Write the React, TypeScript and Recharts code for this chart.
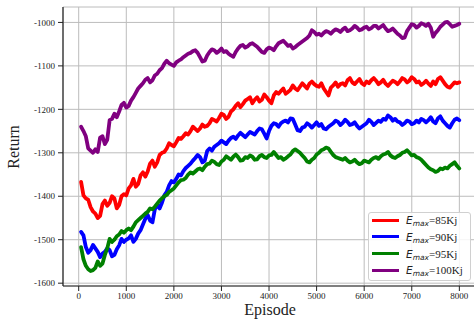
import React from 'react';
import { LineChart, Line, XAxis, YAxis, CartesianGrid } from 'recharts';

const episodes = [
  50, 100, 150, 200, 250, 300, 350, 400, 450, 500,
  550, 600, 650, 700, 750, 800, 850, 900, 950, 1000,
  1050, 1100, 1150, 1200, 1250, 1300, 1350, 1400, 1450, 1500,
  1550, 1600, 1650, 1700, 1750, 1800, 1850, 1900, 1950, 2000,
  2050, 2100, 2150, 2200, 2250, 2300, 2350, 2400, 2450, 2500,
  2550, 2600, 2650, 2700, 2750, 2800, 2850, 2900, 2950, 3000,
  3050, 3100, 3150, 3200, 3250, 3300, 3350, 3400, 3450, 3500,
  3550, 3600, 3650, 3700, 3750, 3800, 3850, 3900, 3950, 4000,
  4050, 4100, 4150, 4200, 4250, 4300, 4350, 4400, 4450, 4500,
  4550, 4600, 4650, 4700, 4750, 4800, 4850, 4900, 4950, 5000,
  5050, 5100, 5150, 5200, 5250, 5300, 5350, 5400, 5450, 5500,
  5550, 5600, 5650, 5700, 5750, 5800, 5850, 5900, 5950, 6000,
  6050, 6100, 6150, 6200, 6250, 6300, 6350, 6400, 6450, 6500,
  6550, 6600, 6650, 6700, 6750, 6800, 6850, 6900, 6950, 7000,
  7050, 7100, 7150, 7200, 7250, 7300, 7350, 7400, 7450, 7500,
  7550, 7600, 7650, 7700, 7750, 7800, 7850, 7900, 7950, 8000,
];

const returns85 = [
  -1367, -1398, -1405, -1408, -1425, -1435, -1440, -1450, -1445, -1418,
  -1410, -1422, -1415, -1400, -1405, -1428, -1420, -1400, -1395, -1398,
  -1382, -1375, -1360, -1378, -1372, -1352, -1345, -1355, -1343, -1325,
  -1318, -1332, -1322, -1305, -1300, -1298, -1290, -1278, -1282, -1285,
  -1276, -1266, -1268, -1262, -1255, -1258, -1250, -1240, -1245, -1250,
  -1244, -1235, -1240, -1238, -1232, -1222, -1225, -1228, -1220, -1210,
  -1213, -1222, -1217, -1205, -1200, -1192, -1186, -1195, -1188, -1180,
  -1176, -1172, -1186, -1178, -1172, -1182, -1178, -1166, -1172, -1180,
  -1186, -1168, -1160, -1164, -1158, -1152, -1164, -1160, -1155, -1145,
  -1152, -1156, -1148, -1140, -1146, -1152, -1141, -1136, -1142, -1146,
  -1148, -1140, -1152, -1160, -1168, -1150, -1145, -1138, -1148, -1142,
  -1140, -1145, -1133, -1128, -1138, -1142, -1136, -1130, -1140, -1144,
  -1136, -1140, -1133, -1128, -1134, -1142, -1138, -1132, -1141, -1146,
  -1140, -1134, -1137, -1142, -1136, -1128, -1131, -1138, -1134, -1126,
  -1130, -1138, -1136, -1144, -1140, -1134, -1141, -1146, -1136, -1142,
  -1130, -1126, -1134, -1142, -1148, -1150, -1144, -1138, -1140, -1138,
];

const returns90 = [
  -1482, -1490, -1517, -1530, -1524, -1512, -1520, -1528, -1540, -1532,
  -1528, -1520, -1524, -1538, -1535, -1522, -1513, -1498, -1505, -1500,
  -1497, -1490, -1505, -1498, -1486, -1478, -1465, -1452, -1443, -1456,
  -1460, -1430, -1420, -1428, -1415, -1398, -1390, -1375, -1365, -1368,
  -1360, -1350, -1352, -1342, -1335, -1330, -1325, -1318, -1312, -1305,
  -1310, -1322, -1318, -1296, -1290, -1295, -1286, -1282, -1278, -1272,
  -1276, -1280, -1272, -1266, -1263, -1268, -1260, -1254, -1259, -1264,
  -1258, -1252, -1255, -1258, -1250, -1244, -1246, -1256, -1267, -1250,
  -1238, -1232, -1234, -1240, -1232, -1228, -1226, -1230, -1221, -1222,
  -1235, -1248, -1250, -1242, -1240, -1232, -1236, -1242, -1236, -1230,
  -1238, -1234, -1244, -1246, -1240, -1236, -1232, -1226, -1229, -1236,
  -1231, -1224, -1229, -1236, -1234, -1230, -1238, -1244, -1240, -1236,
  -1232, -1224, -1229, -1236, -1231, -1226, -1229, -1222, -1224, -1214,
  -1218, -1226, -1222, -1228, -1230, -1236, -1232, -1226, -1228, -1234,
  -1232, -1226, -1230, -1222, -1225, -1230, -1225, -1218, -1228, -1232,
  -1221, -1216, -1226, -1232, -1238, -1242, -1232, -1224, -1221, -1225,
];

const returns95 = [
  -1517, -1545, -1560, -1568, -1572, -1570, -1565, -1550, -1560, -1555,
  -1535, -1520, -1498, -1505, -1500, -1492, -1488, -1480, -1484, -1478,
  -1474, -1478, -1470, -1460, -1455, -1450, -1445, -1440, -1436, -1428,
  -1430, -1424, -1417, -1410, -1405, -1400, -1397, -1390, -1386, -1382,
  -1375, -1368, -1363, -1362, -1358, -1350, -1345, -1348, -1343, -1338,
  -1336, -1340, -1332, -1326, -1325, -1318, -1321, -1326, -1328, -1320,
  -1316, -1308, -1312, -1316, -1309, -1304, -1310, -1318, -1317, -1310,
  -1312, -1306, -1309, -1316, -1315, -1308, -1305, -1310, -1312, -1306,
  -1305, -1298, -1305, -1312, -1310, -1316, -1313, -1308, -1304, -1296,
  -1292, -1296, -1300, -1306, -1312, -1320, -1322, -1316, -1312, -1304,
  -1300, -1294, -1292, -1288, -1290, -1298, -1305, -1310, -1312, -1314,
  -1316, -1312, -1318, -1322, -1320, -1316, -1322, -1326, -1324, -1318,
  -1320, -1322, -1316, -1312, -1310, -1314, -1308, -1304, -1302, -1298,
  -1306, -1310, -1312, -1308, -1305, -1300, -1298, -1294, -1300, -1306,
  -1305, -1310, -1312, -1316, -1322, -1328, -1334, -1338, -1340, -1344,
  -1342, -1336, -1338, -1334, -1336, -1330, -1326, -1322, -1330, -1336,
];

const returns100 = [
  -1240, -1250, -1262, -1290, -1295, -1300, -1292, -1298, -1265, -1262,
  -1280, -1270, -1225, -1222, -1210, -1218, -1205, -1190, -1185, -1196,
  -1192, -1180, -1172, -1162, -1152, -1146, -1140, -1132, -1128, -1138,
  -1133, -1122, -1118, -1110, -1105, -1095, -1088, -1094, -1097, -1100,
  -1092, -1088, -1085, -1080, -1076, -1072, -1070, -1066, -1064, -1070,
  -1080, -1090, -1088, -1076, -1068, -1062, -1064, -1070, -1066, -1060,
  -1068, -1066, -1072, -1076, -1079, -1068, -1060, -1054, -1052, -1058,
  -1055, -1050, -1048, -1052, -1056, -1062, -1068, -1070, -1062, -1058,
  -1060, -1064, -1055, -1048, -1045, -1042, -1048, -1054, -1052, -1060,
  -1057, -1052, -1048, -1044, -1040, -1036, -1030, -1018, -1022, -1028,
  -1026, -1030, -1024, -1020, -1022, -1026, -1020, -1016, -1018, -1022,
  -1016, -1012, -1020, -1018, -1014, -1008, -1012, -1018, -1016, -1012,
  -1010, -1016, -1013, -1008, -1008, -1014, -1010, -1006, -1014, -1020,
  -1018, -1014, -1020, -1026, -1030, -1036, -1035, -1020, -1012, -1004,
  -1006, -1012, -1008, -1002, -1004, -1008, -1003, -1012, -1033, -1024,
  -1018, -1010, -1005, -1000, -999, -1004, -1010, -1008, -1006, -1003,
];

const xTicks = [0, 1000, 2000, 3000, 4000, 5000, 6000, 7000, 8000];
const yTicks = [-1600, -1500, -1400, -1300, -1200, -1100, -1000];

const seriesKeys = ['e85', 'e90', 'e95', 'e100'];
const seriesLabels = ['=85Kj', '=90Kj', '=95Kj', '=100Kj'];
const seriesColors = ['#ff0000', '#0000ff', '#008000', '#800080'];
const seriesValues = [returns85, returns90, returns95, returns100];

const data = episodes.map((ep, i) => {
  const row: Record<string, number> = { episode: ep };
  seriesKeys.forEach((k, j) => {
    row[k] = seriesValues[j][i];
  });
  return row;
});

const SERIF = '"Liberation Serif", "DejaVu Serif", serif';
const tickStyle = { fontFamily: SERIF, fontSize: 9, fill: '#222' };

const LegendBox = () => (
  <div
    style={{
      position: 'absolute',
      left: 368,
      top: 212,
      width: 103,
      height: 69,
      border: '1px solid #d0d0d0',
      borderRadius: 3,
      background: 'rgba(255,255,255,0.85)',
      boxSizing: 'border-box',
    }}
  >
    {seriesKeys.map((k, i) => (
      <div
        key={k}
        style={{
          position: 'absolute',
          left: 0,
          top: 7.3 + i * 16.65 - 8,
          height: 16,
          width: 101,
        }}
      >
        <div
          style={{
            position: 'absolute',
            left: 3,
            top: 6.5,
            width: 27,
            height: 3,
            background: seriesColors[i],
          }}
        />
        <div
          style={{
            position: 'absolute',
            left: 37,
            top: 0,
            whiteSpace: 'nowrap',
            lineHeight: '16px',
            fontFamily: SERIF,
            fontSize: 11,
            color: '#222',
          }}
        >
          <span style={{ fontFamily: '"DejaVu Sans", sans-serif', fontStyle: 'italic', fontSize: 10.5 }}>E</span>
          <span
            style={{
              fontFamily: '"DejaVu Sans", sans-serif',
              fontStyle: 'italic',
              fontSize: 7.5,
              position: 'relative',
              top: 2,
            }}
          >
            max
          </span>
          <span>{seriesLabels[i]}</span>
        </div>
      </div>
    ))}
  </div>
);

export default function App() {
  return (
    <div
      style={{
        position: 'absolute',
        left: 0,
        top: 0,
        width: 474,
        height: 324,
        overflow: 'hidden',
        background: '#fff',
      }}
    >
      <LineChart
        width={478}
        height={324}
        data={data}
        margin={{ top: 7, right: 2, left: 0, bottom: 0 }}
      >
        <CartesianGrid stroke="#bcbcbc" strokeWidth={1} />
        <XAxis
          dataKey="episode"
          type="number"
          domain={[-330, 8350]}
          ticks={xTicks}
          allowDataOverflow
          height={38}
          tickSize={5}
          tickMargin={2}
          tick={tickStyle}
          tickLine={{ stroke: '#222' }}
          axisLine={{ stroke: '#222', strokeWidth: 1.2 }}
          label={{
            content: () => (
              <text x={270} y={315} textAnchor="middle" fontFamily={SERIF} fontSize={16} fill="#222">
                Episode
              </text>
            ),
          }}
        />
        <XAxis
          xAxisId="top"
          orientation="top"
          dataKey="episode"
          type="number"
          domain={[-330, 8350]}
          height={0}
          tick={false}
          tickLine={false}
          axisLine={{ stroke: '#222', strokeWidth: 1.2 }}
        />
        <YAxis
          type="number"
          domain={[-1606.5, -964.5]}
          ticks={yTicks}
          allowDataOverflow
          width={63}
          tickSize={5}
          tickMargin={3}
          tick={tickStyle}
          tickLine={{ stroke: '#222' }}
          axisLine={{ stroke: '#222', strokeWidth: 1.2 }}
          label={{
            content: () => (
              <text
                x={19}
                y={147}
                transform="rotate(-90 19 147)"
                textAnchor="middle"
                fontFamily={SERIF}
                fontSize={16}
                fill="#222"
              >
                Return
              </text>
            ),
          }}
        />
        {seriesKeys.map((k, i) => (
          <Line
            key={k}
            type="linear"
            dataKey={k}
            stroke={seriesColors[i]}
            strokeWidth={3.8}
            strokeLinejoin="round"
            strokeLinecap="round"
            dot={false}
            activeDot={false}
            isAnimationActive={false}
          />
        ))}
      </LineChart>
      <LegendBox />
    </div>
  );
}
